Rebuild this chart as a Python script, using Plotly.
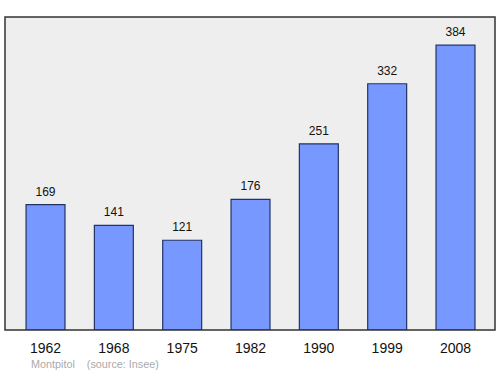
import plotly.graph_objects as go

years = ["1962", "1968", "1975", "1982", "1990", "1999", "2008"]
population = [169, 141, 121, 176, 251, 332, 384]
footer_text = "Montpitol    (source: Insee)"

fig = go.Figure()
fig.add_trace(go.Bar(
    x=years, y=population, width=0.57,
    marker=dict(color="#7799ff", line=dict(color="#223366", width=1.2)),
    hoverinfo="skip",
))
fig.add_trace(go.Scatter(
    x=years, y=population, mode="markers+text", text=[str(v) for v in population],
    textposition="top center", cliponaxis=False, hoverinfo="skip",
    marker=dict(size=8, color="rgba(0,0,0,0)"),
    textfont=dict(size=12, color="#111111", family="Liberation Sans"),
))

fig.add_shape(type="rect", xref="paper", yref="paper", x0=0, y0=0, x1=1, y1=1,
              line=dict(color="#333333", width=1.5), fillcolor="rgba(0,0,0,0)", layer="above")
fig.add_annotation(xref="paper", yref="paper", x=0.049, y=-0.084, xanchor="left", yanchor="top",
                   text=footer_text, showarrow=False,
                   font=dict(size=10.8, color="#aaaaaa", family="Liberation Sans"))

fig.update_layout(
    width=500, height=374,
    margin=dict(l=5, r=5, t=17, b=44),
    paper_bgcolor="white", plot_bgcolor="#eeeeee",
    showlegend=False,
    xaxis=dict(type="category", range=[-0.593, 6.578], showgrid=False, zeroline=False,
               showline=False, ticks="", ticklabelstandoff=8,
               tickfont=dict(size=14, color="#111111", family="Liberation Sans")),
    yaxis=dict(range=[0, 422], showgrid=False, zeroline=False, showticklabels=False,
               showline=False),
)
fig.write_html("out.html")
